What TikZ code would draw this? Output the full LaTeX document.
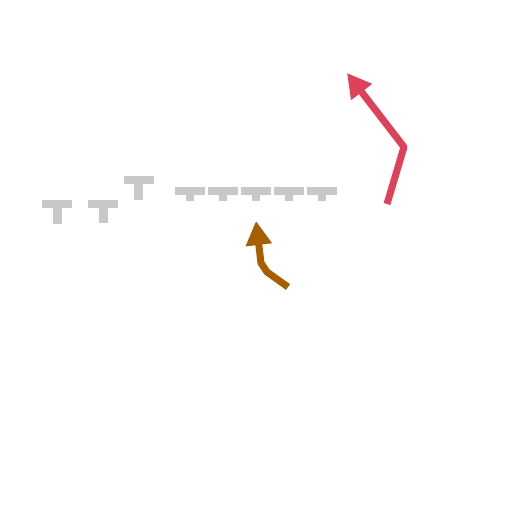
\documentclass[tikz,border=0pt]{standalone}
\usepackage{tikz}
\usetikzlibrary{arrows.meta,calc}

\definecolor{tgray}{RGB}{200,200,200}
\definecolor{redarrow}{RGB}{222,66,90}
\definecolor{brownarrow}{RGB}{166,94,0}

\begin{document}
\begin{tikzpicture}[x=1pt, y=-1pt, >={Triangle[length=24pt,width=25pt]},
  tbar/.style={fill=tgray, draw=none},
  bigarrow/.style={line width=7pt, line join=round, ->}]
  \useasboundingbox (0,0) rectangle (512,512);

  % T marks, left group
  \fill[tbar] (42,200) rectangle (72,208);
  \fill[tbar] (53,208) rectangle (62,224);
  \fill[tbar] (88,200) rectangle (118,208);
  \fill[tbar] (99,208) rectangle (108,223);
  \fill[tbar] (124,176) rectangle (154,184);
  \fill[tbar] (134,184) rectangle (143,200);
  % T marks, row
  \foreach \x in {175,208,241,274,307} {
    \fill[tbar] (\x,187) rectangle ($(\x,195)+(30,0)$);
    \fill[tbar] ($(\x,195)+(11,0)$) rectangle ($(\x,201)+(19,0)$);
  }

  \coordinate (rstart) at (387,204);
  \coordinate (rbend) at (404,147);
  \coordinate (rtip) at (347,73);
  \coordinate (bstart) at (288,287);
  \coordinate (bbend) at (267,272);
  \coordinate (bkink) at (261,263);
  \coordinate (btip) at (256,221);

  \draw[bigarrow, redarrow] (rstart) -- (rbend) -- (rtip);
  \draw[bigarrow, brownarrow] (bstart) -- (bbend) -- (bkink) -- (btip);
\end{tikzpicture}
\end{document}
